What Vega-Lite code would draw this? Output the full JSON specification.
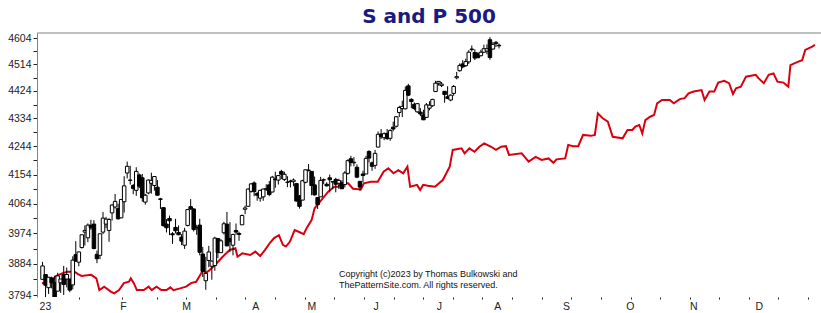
{
  "$schema": "https://vega.github.io/schema/vega-lite/v6.json",
  "width": 784,
  "height": 264,
  "autosize": {"type": "none"},
  "padding": {"left": 37, "top": 33, "right": 0, "bottom": 16},
  "background": "white",
  "config": {
    "view": {"stroke": null},
    "axis": {"grid": false, "labelFont": "Liberation Sans", "labelFontSize": 10.5, "labelColor": "#222222", "labelOverlap": false, "labelFlush": false, "labelBound": false}
  },
  "title": {
    "text": "S and P 500",
    "font": "DejaVu Sans",
    "fontSize": 20,
    "fontWeight": "bold",
    "color": "#1a1a80",
    "anchor": "middle",
    "frame": "group",
    "offset": 9,
    "baseline": "alphabetic",
    "dy": 19
  },
  "resolve": {"axis": {"x": "independent"}},
  "datasets": {
    "candles": [
      {"day": -7, "date": "2022-12-21", "open": 3839, "high": 3890, "low": 3839, "close": 3878},
      {"day": -6, "date": "2022-12-22", "open": 3853, "high": 3853, "low": 3764, "close": 3822},
      {"day": -5, "date": "2022-12-23", "open": 3815, "high": 3846, "low": 3797, "close": 3845},
      {"day": -4, "date": "2022-12-27", "open": 3843, "high": 3847, "low": 3813, "close": 3829},
      {"day": -3, "date": "2022-12-28", "open": 3830, "high": 3848, "low": 3781, "close": 3783},
      {"day": -2, "date": "2022-12-29", "open": 3805, "high": 3858, "low": 3805, "close": 3849},
      {"day": -1, "date": "2022-12-30", "open": 3829, "high": 3840, "low": 3800, "close": 3840},
      {"day": 0, "date": "2023-01-03", "open": 3853, "high": 3878, "low": 3794, "close": 3824},
      {"day": 1, "date": "2023-01-04", "open": 3840, "high": 3873, "low": 3816, "close": 3853},
      {"day": 2, "date": "2023-01-05", "open": 3840, "high": 3840, "low": 3802, "close": 3808},
      {"day": 3, "date": "2023-01-06", "open": 3823, "high": 3906, "low": 3810, "close": 3895},
      {"day": 4, "date": "2023-01-09", "open": 3911, "high": 3951, "low": 3890, "close": 3892},
      {"day": 5, "date": "2023-01-10", "open": 3889, "high": 3920, "low": 3877, "close": 3919},
      {"day": 6, "date": "2023-01-11", "open": 3932, "high": 3970, "low": 3929, "close": 3970},
      {"day": 7, "date": "2023-01-12", "open": 3978, "high": 3998, "low": 3938, "close": 3983},
      {"day": 8, "date": "2023-01-13", "open": 3961, "high": 4004, "low": 3948, "close": 3999},
      {"day": 9, "date": "2023-01-17", "open": 3999, "high": 4015, "low": 3985, "close": 3991},
      {"day": 10, "date": "2023-01-18", "open": 4002, "high": 4014, "low": 3927, "close": 3929},
      {"day": 11, "date": "2023-01-19", "open": 3912, "high": 3923, "low": 3886, "close": 3899},
      {"day": 12, "date": "2023-01-20", "open": 3909, "high": 3973, "low": 3898, "close": 3973},
      {"day": 13, "date": "2023-01-23", "open": 3978, "high": 4039, "low": 3972, "close": 4020},
      {"day": 14, "date": "2023-01-24", "open": 4002, "high": 4024, "low": 3990, "close": 4017},
      {"day": 15, "date": "2023-01-25", "open": 3983, "high": 4020, "low": 3949, "close": 4016},
      {"day": 16, "date": "2023-01-26", "open": 4036, "high": 4062, "low": 4013, "close": 4060},
      {"day": 17, "date": "2023-01-27", "open": 4054, "high": 4094, "low": 4049, "close": 4071},
      {"day": 18, "date": "2023-01-30", "open": 4049, "high": 4064, "low": 4016, "close": 4018},
      {"day": 19, "date": "2023-01-31", "open": 4021, "high": 4077, "low": 4020, "close": 4077},
      {"day": 20, "date": "2023-02-01", "open": 4070, "high": 4149, "low": 4037, "close": 4119},
      {"day": 21, "date": "2023-02-02", "open": 4159, "high": 4195, "low": 4142, "close": 4180},
      {"day": 22, "date": "2023-02-03", "open": 4137, "high": 4182, "low": 4123, "close": 4136},
      {"day": 23, "date": "2023-02-06", "open": 4120, "high": 4125, "low": 4093, "close": 4111},
      {"day": 24, "date": "2023-02-07", "open": 4105, "high": 4177, "low": 4088, "close": 4164},
      {"day": 25, "date": "2023-02-08", "open": 4153, "high": 4157, "low": 4112, "close": 4118},
      {"day": 26, "date": "2023-02-09", "open": 4144, "high": 4156, "low": 4070, "close": 4082},
      {"day": 27, "date": "2023-02-10", "open": 4069, "high": 4094, "low": 4061, "close": 4090},
      {"day": 28, "date": "2023-02-13", "open": 4097, "high": 4139, "low": 4093, "close": 4137},
      {"day": 29, "date": "2023-02-14", "open": 4127, "high": 4160, "low": 4095, "close": 4136},
      {"day": 30, "date": "2023-02-15", "open": 4120, "high": 4148, "low": 4104, "close": 4148},
      {"day": 31, "date": "2023-02-16", "open": 4115, "high": 4137, "low": 4089, "close": 4090},
      {"day": 32, "date": "2023-02-17", "open": 4077, "high": 4082, "low": 4048, "close": 4079},
      {"day": 33, "date": "2023-02-21", "open": 4052, "high": 4052, "low": 3995, "close": 3997},
      {"day": 34, "date": "2023-02-22", "open": 4002, "high": 4017, "low": 3977, "close": 3991},
      {"day": 35, "date": "2023-02-23", "open": 4019, "high": 4028, "low": 3969, "close": 4012},
      {"day": 36, "date": "2023-02-24", "open": 3973, "high": 3978, "low": 3943, "close": 3970},
      {"day": 37, "date": "2023-02-27", "open": 3992, "high": 4018, "low": 3974, "close": 3982},
      {"day": 38, "date": "2023-02-28", "open": 3977, "high": 3998, "low": 3969, "close": 3970},
      {"day": 39, "date": "2023-03-01", "open": 3963, "high": 3972, "low": 3939, "close": 3951},
      {"day": 40, "date": "2023-03-02", "open": 3939, "high": 3991, "low": 3928, "close": 3981},
      {"day": 41, "date": "2023-03-03", "open": 3998, "high": 4048, "low": 3995, "close": 4046},
      {"day": 42, "date": "2023-03-06", "open": 4055, "high": 4078, "low": 4045, "close": 4048},
      {"day": 43, "date": "2023-03-07", "open": 4048, "high": 4050, "low": 3980, "close": 3986},
      {"day": 44, "date": "2023-03-08", "open": 3988, "high": 4000, "low": 3970, "close": 3992},
      {"day": 45, "date": "2023-03-09", "open": 3999, "high": 4018, "low": 3909, "close": 3918},
      {"day": 46, "date": "2023-03-10", "open": 3913, "high": 3934, "low": 3846, "close": 3862},
      {"day": 47, "date": "2023-03-13", "open": 3835, "high": 3905, "low": 3809, "close": 3856},
      {"day": 48, "date": "2023-03-14", "open": 3894, "high": 3937, "low": 3874, "close": 3919},
      {"day": 49, "date": "2023-03-15", "open": 3877, "high": 3894, "low": 3838, "close": 3892},
      {"day": 50, "date": "2023-03-16", "open": 3879, "high": 3964, "low": 3864, "close": 3960},
      {"day": 51, "date": "2023-03-17", "open": 3959, "high": 3959, "low": 3901, "close": 3917},
      {"day": 52, "date": "2023-03-20", "open": 3917, "high": 3957, "low": 3917, "close": 3952},
      {"day": 53, "date": "2023-03-21", "open": 3976, "high": 4009, "low": 3971, "close": 4003},
      {"day": 54, "date": "2023-03-22", "open": 4002, "high": 4039, "low": 3936, "close": 3937},
      {"day": 55, "date": "2023-03-23", "open": 3959, "high": 4008, "low": 3919, "close": 3949},
      {"day": 56, "date": "2023-03-24", "open": 3939, "high": 3973, "low": 3909, "close": 3971},
      {"day": 57, "date": "2023-03-27", "open": 3983, "high": 4004, "low": 3970, "close": 3978},
      {"day": 58, "date": "2023-03-28", "open": 3974, "high": 3979, "low": 3952, "close": 3971},
      {"day": 59, "date": "2023-03-29", "open": 4000, "high": 4031, "low": 4000, "close": 4028},
      {"day": 60, "date": "2023-03-30", "open": 4047, "high": 4058, "low": 4032, "close": 4051},
      {"day": 61, "date": "2023-03-31", "open": 4056, "high": 4111, "low": 4056, "close": 4109},
      {"day": 62, "date": "2023-04-03", "open": 4102, "high": 4128, "low": 4098, "close": 4125},
      {"day": 63, "date": "2023-04-04", "open": 4128, "high": 4133, "low": 4087, "close": 4101},
      {"day": 64, "date": "2023-04-05", "open": 4095, "high": 4100, "low": 4073, "close": 4090},
      {"day": 65, "date": "2023-04-06", "open": 4081, "high": 4107, "low": 4070, "close": 4105},
      {"day": 66, "date": "2023-04-10", "open": 4085, "high": 4110, "low": 4073, "close": 4109},
      {"day": 67, "date": "2023-04-11", "open": 4110, "high": 4124, "low": 4103, "close": 4109},
      {"day": 68, "date": "2023-04-12", "open": 4122, "high": 4134, "low": 4087, "close": 4092},
      {"day": 69, "date": "2023-04-13", "open": 4100, "high": 4150, "low": 4099, "close": 4146},
      {"day": 70, "date": "2023-04-14", "open": 4140, "high": 4163, "low": 4113, "close": 4138},
      {"day": 71, "date": "2023-04-17", "open": 4137, "high": 4152, "low": 4123, "close": 4151},
      {"day": 72, "date": "2023-04-18", "open": 4164, "high": 4169, "low": 4140, "close": 4155},
      {"day": 73, "date": "2023-04-19", "open": 4139, "high": 4163, "low": 4134, "close": 4155},
      {"day": 74, "date": "2023-04-20", "open": 4130, "high": 4149, "low": 4115, "close": 4130},
      {"day": 75, "date": "2023-04-21", "open": 4132, "high": 4138, "low": 4114, "close": 4134},
      {"day": 76, "date": "2023-04-24", "open": 4132, "high": 4142, "low": 4118, "close": 4137},
      {"day": 77, "date": "2023-04-25", "open": 4126, "high": 4126, "low": 4071, "close": 4072},
      {"day": 78, "date": "2023-04-26", "open": 4088, "high": 4090, "low": 4049, "close": 4056},
      {"day": 79, "date": "2023-04-27", "open": 4075, "high": 4138, "low": 4075, "close": 4135},
      {"day": 80, "date": "2023-04-28", "open": 4130, "high": 4170, "low": 4127, "close": 4169},
      {"day": 81, "date": "2023-05-01", "open": 4167, "high": 4187, "low": 4164, "close": 4168},
      {"day": 82, "date": "2023-05-02", "open": 4164, "high": 4164, "low": 4090, "close": 4120},
      {"day": 83, "date": "2023-05-03", "open": 4122, "high": 4148, "low": 4089, "close": 4091},
      {"day": 84, "date": "2023-05-04", "open": 4083, "high": 4083, "low": 4048, "close": 4061},
      {"day": 85, "date": "2023-05-05", "open": 4085, "high": 4147, "low": 4085, "close": 4136},
      {"day": 86, "date": "2023-05-08", "open": 4137, "high": 4142, "low": 4124, "close": 4138},
      {"day": 87, "date": "2023-05-09", "open": 4124, "high": 4130, "low": 4117, "close": 4119},
      {"day": 88, "date": "2023-05-10", "open": 4144, "high": 4154, "low": 4099, "close": 4138},
      {"day": 89, "date": "2023-05-11", "open": 4132, "high": 4133, "low": 4109, "close": 4131},
      {"day": 90, "date": "2023-05-12", "open": 4139, "high": 4144, "low": 4099, "close": 4124},
      {"day": 91, "date": "2023-05-15", "open": 4127, "high": 4141, "low": 4110, "close": 4136},
      {"day": 92, "date": "2023-05-16", "open": 4128, "high": 4136, "low": 4110, "close": 4110},
      {"day": 93, "date": "2023-05-17", "open": 4123, "high": 4165, "low": 4114, "close": 4159},
      {"day": 94, "date": "2023-05-18", "open": 4158, "high": 4202, "low": 4154, "close": 4198},
      {"day": 95, "date": "2023-05-19", "open": 4204, "high": 4213, "low": 4180, "close": 4192},
      {"day": 96, "date": "2023-05-22", "open": 4191, "high": 4209, "low": 4180, "close": 4193},
      {"day": 97, "date": "2023-05-23", "open": 4177, "high": 4186, "low": 4143, "close": 4146},
      {"day": 98, "date": "2023-05-24", "open": 4133, "high": 4133, "low": 4104, "close": 4115},
      {"day": 99, "date": "2023-05-25", "open": 4156, "high": 4166, "low": 4130, "close": 4151},
      {"day": 100, "date": "2023-05-26", "open": 4156, "high": 4213, "low": 4156, "close": 4205},
      {"day": 101, "date": "2023-05-30", "open": 4227, "high": 4231, "low": 4192, "close": 4206},
      {"day": 102, "date": "2023-05-31", "open": 4191, "high": 4195, "low": 4166, "close": 4180},
      {"day": 103, "date": "2023-06-01", "open": 4183, "high": 4232, "low": 4172, "close": 4221},
      {"day": 104, "date": "2023-06-02", "open": 4241, "high": 4291, "low": 4241, "close": 4282},
      {"day": 105, "date": "2023-06-05", "open": 4283, "high": 4299, "low": 4267, "close": 4274},
      {"day": 106, "date": "2023-06-06", "open": 4271, "high": 4288, "low": 4263, "close": 4284},
      {"day": 107, "date": "2023-06-07", "open": 4285, "high": 4299, "low": 4264, "close": 4268},
      {"day": 108, "date": "2023-06-08", "open": 4269, "high": 4298, "low": 4261, "close": 4294},
      {"day": 109, "date": "2023-06-09", "open": 4305, "high": 4323, "low": 4292, "close": 4299},
      {"day": 110, "date": "2023-06-12", "open": 4308, "high": 4340, "low": 4304, "close": 4339},
      {"day": 111, "date": "2023-06-13", "open": 4353, "high": 4375, "low": 4338, "close": 4369},
      {"day": 112, "date": "2023-06-14", "open": 4366, "high": 4392, "low": 4338, "close": 4373},
      {"day": 113, "date": "2023-06-15", "open": 4365, "high": 4439, "low": 4363, "close": 4426},
      {"day": 114, "date": "2023-06-16", "open": 4441, "high": 4448, "low": 4407, "close": 4410},
      {"day": 115, "date": "2023-06-20", "open": 4396, "high": 4400, "low": 4367, "close": 4389},
      {"day": 116, "date": "2023-06-21", "open": 4380, "high": 4386, "low": 4360, "close": 4366},
      {"day": 117, "date": "2023-06-22", "open": 4355, "high": 4382, "low": 4352, "close": 4382},
      {"day": 118, "date": "2023-06-23", "open": 4354, "high": 4367, "low": 4341, "close": 4348},
      {"day": 119, "date": "2023-06-26", "open": 4345, "high": 4362, "low": 4328, "close": 4329},
      {"day": 120, "date": "2023-06-27", "open": 4337, "high": 4384, "low": 4335, "close": 4378},
      {"day": 121, "date": "2023-06-28", "open": 4367, "high": 4390, "low": 4360, "close": 4377},
      {"day": 122, "date": "2023-06-29", "open": 4375, "high": 4398, "low": 4372, "close": 4396},
      {"day": 123, "date": "2023-06-30", "open": 4422, "high": 4458, "low": 4422, "close": 4450},
      {"day": 124, "date": "2023-07-03", "open": 4450, "high": 4456, "low": 4442, "close": 4456},
      {"day": 125, "date": "2023-07-05", "open": 4442, "high": 4454, "low": 4437, "close": 4447},
      {"day": 126, "date": "2023-07-06", "open": 4423, "high": 4423, "low": 4385, "close": 4412},
      {"day": 127, "date": "2023-07-07", "open": 4405, "high": 4440, "low": 4397, "close": 4399},
      {"day": 128, "date": "2023-07-10", "open": 4394, "high": 4413, "low": 4390, "close": 4410},
      {"day": 129, "date": "2023-07-11", "open": 4416, "high": 4444, "low": 4408, "close": 4439},
      {"day": 130, "date": "2023-07-12", "open": 4468, "high": 4488, "low": 4463, "close": 4472},
      {"day": 131, "date": "2023-07-13", "open": 4492, "high": 4517, "low": 4489, "close": 4510},
      {"day": 132, "date": "2023-07-14", "open": 4515, "high": 4528, "low": 4500, "close": 4505},
      {"day": 133, "date": "2023-07-17", "open": 4509, "high": 4533, "low": 4505, "close": 4523},
      {"day": 134, "date": "2023-07-18", "open": 4522, "high": 4562, "low": 4515, "close": 4555},
      {"day": 135, "date": "2023-07-19", "open": 4564, "high": 4578, "low": 4557, "close": 4566},
      {"day": 136, "date": "2023-07-20", "open": 4554, "high": 4565, "low": 4528, "close": 4535},
      {"day": 137, "date": "2023-07-21", "open": 4550, "high": 4555, "low": 4536, "close": 4536},
      {"day": 138, "date": "2023-07-24", "open": 4543, "high": 4563, "low": 4541, "close": 4555},
      {"day": 139, "date": "2023-07-25", "open": 4555, "high": 4581, "low": 4552, "close": 4567},
      {"day": 140, "date": "2023-07-26", "open": 4559, "high": 4582, "low": 4548, "close": 4567},
      {"day": 141, "date": "2023-07-27", "open": 4598, "high": 4607, "low": 4529, "close": 4537},
      {"day": 142, "date": "2023-07-28", "open": 4566, "high": 4590, "low": 4564, "close": 4582},
      {"day": 143, "date": "2023-07-31", "open": 4585, "high": 4594, "low": 4573, "close": 4589},
      {"day": 144, "date": "2023-08-01", "open": 4579, "high": 4585, "low": 4568, "close": 4577}
    ],
    "seasonal": [
      {"day": -7.2, "value": 3828}, {"day": -3.9, "value": 3832}, {"day": -2.9, "value": 3847},
      {"day": -0.3, "value": 3857}, {"day": 1.3, "value": 3861}, {"day": 3.6, "value": 3861},
      {"day": 4.6, "value": 3855}, {"day": 5.9, "value": 3849}, {"day": 9.1, "value": 3852},
      {"day": 10.8, "value": 3842}, {"day": 11.8, "value": 3808}, {"day": 13.4, "value": 3818},
      {"day": 15.7, "value": 3803}, {"day": 16.7, "value": 3799}, {"day": 18.3, "value": 3808},
      {"day": 19.9, "value": 3828}, {"day": 21.6, "value": 3832}, {"day": 22.2, "value": 3842},
      {"day": 23.2, "value": 3828}, {"day": 24.2, "value": 3808}, {"day": 26.5, "value": 3808},
      {"day": 28.1, "value": 3818}, {"day": 29.1, "value": 3808}, {"day": 30.7, "value": 3818},
      {"day": 32.3, "value": 3808}, {"day": 34.0, "value": 3808}, {"day": 35.3, "value": 3816},
      {"day": 36.3, "value": 3808}, {"day": 38.5, "value": 3813}, {"day": 40.5, "value": 3818},
      {"day": 42.1, "value": 3828}, {"day": 43.8, "value": 3832}, {"day": 45.4, "value": 3855},
      {"day": 46.1, "value": 3866}, {"day": 47.0, "value": 3857}, {"day": 48.3, "value": 3866},
      {"day": 50.5, "value": 3885}, {"day": 52.6, "value": 3905}, {"day": 54.9, "value": 3925},
      {"day": 56.8, "value": 3930}, {"day": 57.5, "value": 3905}, {"day": 59.1, "value": 3915},
      {"day": 61.7, "value": 3910}, {"day": 63.4, "value": 3920}, {"day": 65.0, "value": 3907},
      {"day": 66.6, "value": 3925}, {"day": 68.3, "value": 3947}, {"day": 69.6, "value": 3960},
      {"day": 71.2, "value": 3969}, {"day": 72.5, "value": 3940}, {"day": 73.5, "value": 3935},
      {"day": 74.8, "value": 3949}, {"day": 76.4, "value": 3984}, {"day": 77.7, "value": 3979},
      {"day": 79.4, "value": 3972}, {"day": 80.3, "value": 3989}, {"day": 82.0, "value": 4014},
      {"day": 83.0, "value": 4050}, {"day": 85.2, "value": 4075}, {"day": 87.5, "value": 4101},
      {"day": 89.5, "value": 4116}, {"day": 90.8, "value": 4116}, {"day": 91.8, "value": 4127},
      {"day": 94.1, "value": 4127}, {"day": 95.7, "value": 4110}, {"day": 98.3, "value": 4108},
      {"day": 99.3, "value": 4127}, {"day": 101.6, "value": 4132}, {"day": 103.9, "value": 4132},
      {"day": 105.8, "value": 4163}, {"day": 107.4, "value": 4174}, {"day": 109.1, "value": 4158},
      {"day": 110.7, "value": 4168}, {"day": 112.3, "value": 4158}, {"day": 113.7, "value": 4179},
      {"day": 114.6, "value": 4116}, {"day": 116.9, "value": 4122}, {"day": 117.9, "value": 4106},
      {"day": 118.9, "value": 4122}, {"day": 120.5, "value": 4119}, {"day": 122.8, "value": 4116},
      {"day": 125.4, "value": 4137}, {"day": 127.7, "value": 4179}, {"day": 128.7, "value": 4232},
      {"day": 131.6, "value": 4237}, {"day": 132.6, "value": 4221}, {"day": 134.2, "value": 4237},
      {"day": 135.9, "value": 4226}, {"day": 137.5, "value": 4242}, {"day": 139.1, "value": 4253},
      {"day": 141.4, "value": 4242}, {"day": 143.0, "value": 4232}, {"day": 144.7, "value": 4242},
      {"day": 146.3, "value": 4244}, {"day": 147.3, "value": 4216}, {"day": 151.5, "value": 4221},
      {"day": 153.8, "value": 4195}, {"day": 156.1, "value": 4210}, {"day": 158.1, "value": 4200},
      {"day": 160.4, "value": 4205}, {"day": 162.0, "value": 4191}, {"day": 163.0, "value": 4202},
      {"day": 165.9, "value": 4205}, {"day": 166.9, "value": 4248}, {"day": 168.5, "value": 4244},
      {"day": 170.2, "value": 4244}, {"day": 171.8, "value": 4280}, {"day": 174.4, "value": 4277},
      {"day": 175.7, "value": 4280}, {"day": 176.7, "value": 4350}, {"day": 178.3, "value": 4334},
      {"day": 180.0, "value": 4323}, {"day": 181.6, "value": 4274}, {"day": 184.9, "value": 4269},
      {"day": 186.5, "value": 4296}, {"day": 188.1, "value": 4296}, {"day": 189.1, "value": 4307},
      {"day": 190.4, "value": 4312}, {"day": 191.4, "value": 4285}, {"day": 192.4, "value": 4328},
      {"day": 194.0, "value": 4339}, {"day": 195.3, "value": 4345}, {"day": 196.3, "value": 4383},
      {"day": 197.9, "value": 4394}, {"day": 200.5, "value": 4394}, {"day": 201.8, "value": 4383},
      {"day": 203.8, "value": 4397}, {"day": 205.4, "value": 4400}, {"day": 206.7, "value": 4416},
      {"day": 208.4, "value": 4422}, {"day": 211.0, "value": 4427}, {"day": 212.0, "value": 4394},
      {"day": 213.6, "value": 4422}, {"day": 215.2, "value": 4422}, {"day": 216.5, "value": 4452},
      {"day": 218.5, "value": 4458}, {"day": 220.1, "value": 4450}, {"day": 221.4, "value": 4414},
      {"day": 222.4, "value": 4433}, {"day": 224.0, "value": 4438}, {"day": 225.7, "value": 4472},
      {"day": 228.9, "value": 4478}, {"day": 229.9, "value": 4466}, {"day": 231.6, "value": 4450},
      {"day": 233.2, "value": 4478}, {"day": 234.8, "value": 4483}, {"day": 236.1, "value": 4455},
      {"day": 238.1, "value": 4452}, {"day": 239.7, "value": 4438}, {"day": 240.4, "value": 4511},
      {"day": 243.0, "value": 4523}, {"day": 244.3, "value": 4528}, {"day": 245.3, "value": 4563},
      {"day": 247.6, "value": 4574}, {"day": 248.5, "value": 4580}
    ]
  },
  "layer": [
    {
      "data": {"name": "seasonal"},
      "mark": {"type": "line", "color": "#d8000f", "strokeWidth": 2, "clip": true},
      "encoding": {
        "x": {
          "field": "day", "type": "quantitative", "title": null,
          "scale": {"domain": [-7.18, 248.86], "nice": false, "zero": false},
          "axis": {
            "orient": "bottom",
            "title": null,
            "values": [-6.2, 19.6, 40.5, 63.4, 81.9, 103.2, 124.1, 143.4, 166.2, 187.3, 208.3, 229.9],
            "labelExpr": "datum.value == -6.2 ? '23' : datum.value == 19.6 ? 'F' : datum.value == 40.5 ? 'M' : datum.value == 63.4 ? 'A' : datum.value == 81.9 ? 'M' : datum.value == 103.2 ? 'J' : datum.value == 124.1 ? 'J' : datum.value == 143.4 ? 'A' : datum.value == 166.2 ? 'S' : datum.value == 187.3 ? 'O' : datum.value == 208.3 ? 'N' : datum.value == 229.9 ? 'D' : ''",
            "ticks": false,
            "tickSize": 2,
            "domain": false,
            "labelPadding": 4,
            "labelOverlap": false,
            "labelFlush": false
          }
        },
        "y": {
          "field": "value", "type": "quantitative", "title": null,
          "scale": {"type": "log", "domain": [3788.3, 4621.4], "nice": false},
          "axis": {
            "title": null,
            "values": [3794, 3839, 3884, 3929, 3974, 4019, 4064, 4109, 4154, 4199, 4244, 4289, 4334, 4379, 4424, 4469, 4514, 4559, 4604],
            "labelExpr": "(round(datum.value) - 3794) % 90 == 0 ? '' + round(datum.value) : ''",
            "tickSize": 4,
            "tickColor": "#222222",
            "domainColor": "#808080",
            "labelPadding": 2,
            "labelOverlap": false,
            "labelFlush": false
          }
        }
      }
    },
    {
      "data": {"name": "candles"},
      "mark": {"type": "rule", "color": "black", "strokeWidth": 1, "clip": true},
      "encoding": {
        "x": {
          "field": "day", "type": "quantitative", "title": null,
          "axis": {
            "orient": "bottom",
            "title": null,
            "values": [4.9, 19.3, 30.7, 40.5, 50.3, 60.1, 69.9, 79.7, 89.5, 99.3, 109.1, 118.9, 128.7, 138.5, 148.3, 158.1, 167.9, 177.7, 187.5, 197.3, 207.1, 216.9, 226.7, 236.4, 246.2],
            "labels": false,
            "tickSize": 2,
            "tickColor": "#222222",
            "domain": false
          }
        },
        "y": {"field": "low", "type": "quantitative", "title": null},
        "y2": {"field": "high"}
      }
    },
    {
      "data": {"name": "candles"},
      "mark": {"type": "bar", "size": 3.5, "stroke": "black", "strokeWidth": 1, "clip": true},
      "encoding": {
        "x": {"field": "day", "type": "quantitative", "title": null, "axis": null},
        "y": {"field": "open", "type": "quantitative", "title": null},
        "y2": {"field": "close"},
        "fill": {"condition": {"test": "datum.close >= datum.open", "value": "white"}, "value": "black"}
      }
    },
    {
      "data": {"values": [{}]},
      "mark": {"type": "rule", "color": "#808080", "strokeWidth": 1},
      "encoding": {"y": {"datum": 4621.4, "type": "quantitative"}}
    },
    {
      "data": {"values": [{}]},
      "mark": {"type": "text", "align": "left", "baseline": "alphabetic", "font": "Liberation Sans", "fontSize": 9, "lineHeight": 11, "color": "#111111"},
      "encoding": {
        "x": {"datum": 91.1, "type": "quantitative", "axis": null},
        "y": {"datum": 3845.8, "type": "quantitative"},
        "text": {"value": ["Copyright (c)2023 by Thomas Bulkowski and", "ThePatternSite.com. All rights reserved."]}
      }
    }
  ]
}
